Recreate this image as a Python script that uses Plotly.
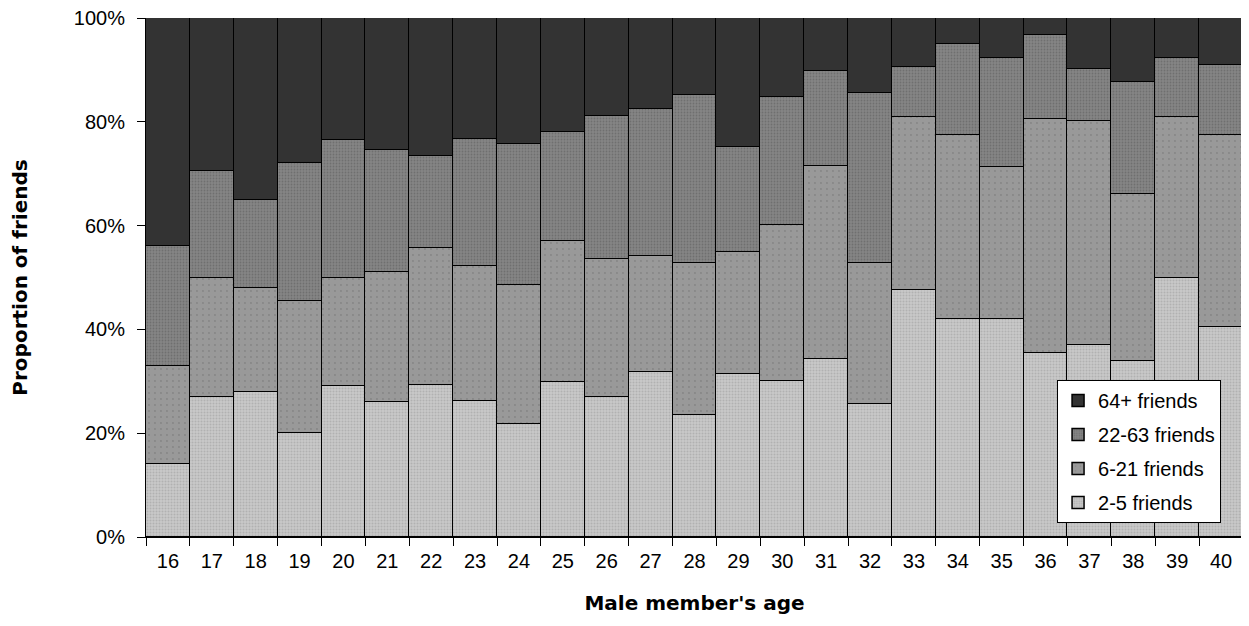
import plotly.graph_objects as go

ages = [str(a) for a in range(16, 41)]
# cumulative tops (percent)
cum_2_5 = [14, 27, 28, 20, 29, 26, 29.2, 26.3, 21.8, 29.8, 26.9, 31.7, 23.6, 31.4, 30.1, 34.3, 25.6, 47.5, 42, 42, 35.5, 37, 34, 50, 40.5]
cum_6_21 = [33, 50, 48, 45.5, 50, 51, 55.7, 52.2, 48.6, 57.0, 53.5, 54.1, 52.8, 55.0, 60.2, 71.5, 52.8, 81, 77.5, 71.2, 80.5, 80.2, 66, 81, 77.5]
cum_22_63 = [56, 70.5, 65, 72, 76.5, 74.5, 73.5, 76.7, 75.7, 78.0, 81.2, 82.5, 85.2, 75.1, 84.8, 89.7, 85.5, 90.5, 95, 92.2, 96.7, 90.2, 87.7, 92.2, 91]

s_2_5 = cum_2_5
s_6_21 = [b - a for a, b in zip(cum_2_5, cum_6_21)]
s_22_63 = [b - a for a, b in zip(cum_6_21, cum_22_63)]
s_64 = [100 - b for b in cum_22_63]

series = [
    ("2-5 friends", s_2_5, dict(shape=".", bgcolor="#c8c8c8", fgcolor="#9a9a9a", size=3, solidity=0.35), 4),
    ("6-21 friends", s_6_21, dict(shape=".", bgcolor="#999999", fgcolor="#707070", size=6, solidity=0.08), 3),
    ("22-63 friends", s_22_63, dict(shape=".", bgcolor="#858585", fgcolor="#5a5a5a", size=3, solidity=0.3), 2),
    ("64+ friends", s_64, None, 1),
]

fig = go.Figure()
for name, vals, pat, rank in series:
    marker = dict(line=dict(color="#000000", width=1.5))
    if pat is None:
        marker["color"] = "#333333"
    else:
        marker["color"] = pat["bgcolor"]
        marker["pattern"] = pat
    fig.add_trace(go.Bar(x=ages, y=vals, name=name, marker=marker,
                         legendgroup=name, legendrank=rank))

font = "Liberation Sans, Arial, sans-serif"
bold = "DejaVu Sans, Verdana, sans-serif"
fig.update_layout(
    barmode="stack",
    bargap=0,
    width=1241,
    height=618,
    margin=dict(l=138, r=6, t=10, b=89),
    paper_bgcolor="white",
    plot_bgcolor="white",
    font=dict(family=font, size=20, color="#000000"),
    legend=dict(
        x=0.8305, y=0.027, xanchor="left", yanchor="bottom",
        bgcolor="white", bordercolor="#000000", borderwidth=1,
        traceorder="grouped", tracegroupgap=5,
        font=dict(size=20), itemwidth=30,
    ),
    xaxis=dict(
        title=dict(text="<b>Male member's age</b>", font=dict(family=bold, size=20), standoff=24),
        type="category", ticks="outside", ticklen=8, tickcolor="#000000",
        tickson="boundaries", showline=True, linecolor="#000000", linewidth=1,
        tickfont=dict(size=20), showgrid=False, ticklabelstandoff=6,
        automargin=False,
    ),
    yaxis=dict(
        title=dict(text="<b>Proportion of friends</b>", font=dict(family=bold, size=20), standoff=50),
        range=[0, 100], tickvals=[0, 20, 40, 60, 80, 100],
        ticktext=["0%", "20%", "40%", "60%", "80%", "100%"],
        ticks="outside", ticklen=8, tickcolor="#000000",
        showline=True, linecolor="#000000", linewidth=1,
        showgrid=False, zeroline=False, tickfont=dict(size=20), ticklabelstandoff=8,
        ticklabeloverflow="allow", automargin=False,
    ),
)

fig.write_html("out.html")
